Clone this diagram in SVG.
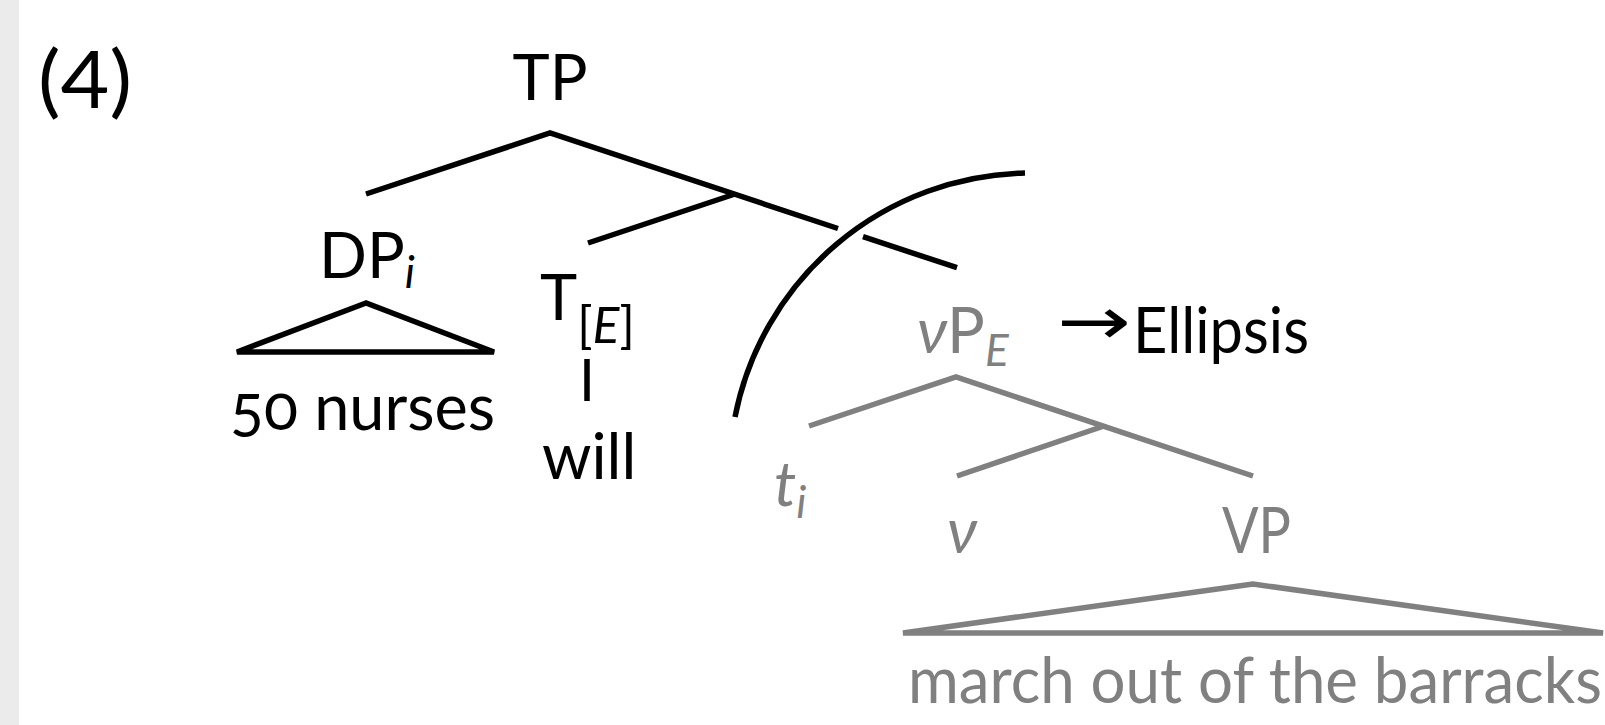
<svg xmlns="http://www.w3.org/2000/svg" width="1605" height="725" viewBox="0 0 1605 725">
<style>
  text { font-family: Lato, "Open Sans", "Noto Sans", "DejaVu Sans", sans-serif; font-size: 63px; fill: #000; }
  .g { fill: #808080; }
  .it { font-style: italic; }
  .sub { font-size: 44px; }
  .blk { stroke: #000; stroke-width: 5.5; fill: none; }
  .gry { stroke: #808080; stroke-width: 5.5; fill: none; }
</style>
<rect x="0" y="0" width="19" height="725" fill="#ebebeb"/>
<text id="label" x="38" y="108" style="font-size:80px" textLength="94" lengthAdjust="spacingAndGlyphs">(4)</text>

<g id="TP"><text x="550" y="100" text-anchor="middle">TP</text></g>
<g id="DP"><text x="319" y="278">DP<tspan class="sub it" dy="10">i</tspan></text></g>
<g id="nurses"><text x="230" y="430" style="font-variant-numeric: oldstyle-nums">50 nurses</text></g>
<g id="T"><text x="540" y="320">T<tspan class="sub" style="font-size:50px" dy="23">[<tspan class="it">E</tspan>]</tspan></text></g>
<g id="will"><text x="542" y="479">will</text></g>
<g id="vP"><text x="917" y="353" class="g"><tspan class="it">ν</tspan>P<tspan class="sub it" dy="13">E</tspan></text></g>
<g id="ellipsis"><text x="1057" y="344" style="font-family:'DejaVu Sans',sans-serif;font-size:66px" textLength="74" lengthAdjust="spacingAndGlyphs">→</text><text x="1133" y="353" textLength="176" lengthAdjust="spacingAndGlyphs">Ellipsis</text></g>
<g id="t"><text x="774" y="506" class="g it">t<tspan class="sub" dy="12">i</tspan></text></g>
<g id="v"><text x="947" y="553" class="g it">ν</text></g>
<g id="VP"><text x="1222" y="553" class="g" textLength="69" lengthAdjust="spacingAndGlyphs">VP</text></g>
<g id="march"><text x="908" y="703" class="g" textLength="694" lengthAdjust="spacingAndGlyphs">march out of the barracks</text></g>

<g id="connectors">
  <polyline class="blk" points="366,194 550,133 838,228.5"/>
  <line class="blk" x1="863" y1="236.7" x2="957" y2="267.7"/>
  <line class="blk" x1="735" y1="194" x2="588" y2="243"/>
  <polygon class="blk" points="366,303 237,352 494,352" stroke-linejoin="miter"/>
  <line class="blk" x1="587" y1="359" x2="587" y2="401"/>
  <path class="blk" d="M 1025 173 A 302 302 0 0 0 735 417"/>
  <polyline class="gry" points="809,426 956,377 1253,476"/>
  <line class="gry" x1="1104" y1="426" x2="957" y2="476"/>
  <polygon class="gry" points="1253,584 903,633 1603,633"/>
</g>
</svg>
